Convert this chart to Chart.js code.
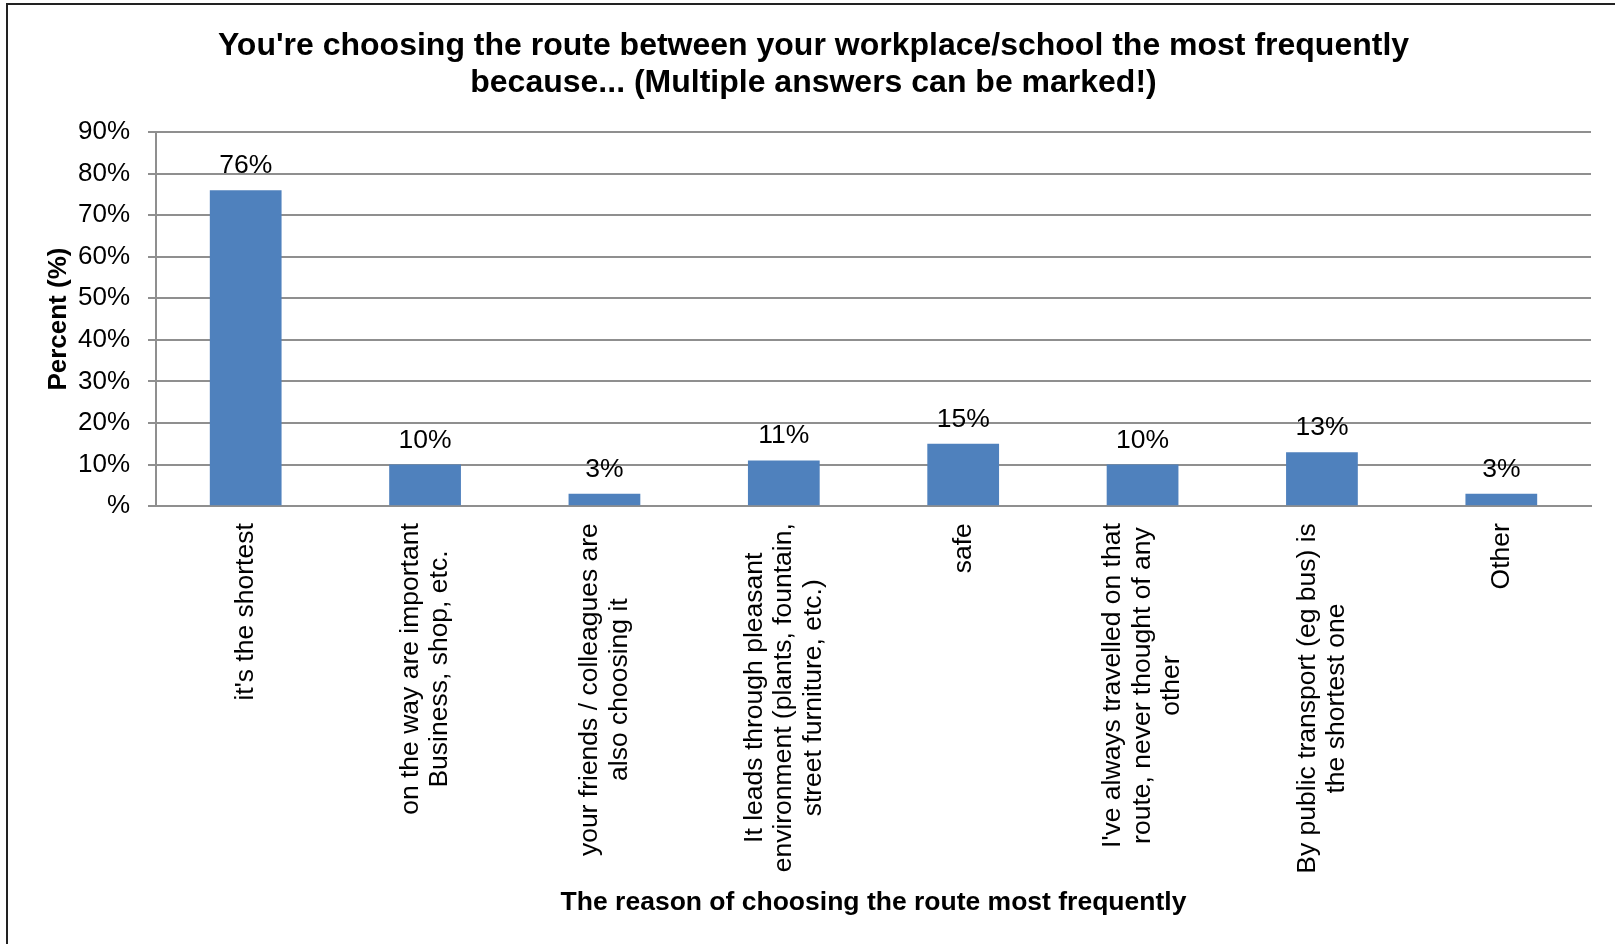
<!DOCTYPE html>
<html lang="en">
<head>
  <meta charset="UTF-8">
  <title>Route choice reasons</title>
  <script src="https://cdn.jsdelivr.net/npm/chart.js"></script>
  <style>
    body { margin: 0; background: #fff; }
    canvas { display: block; }
  </style>
</head>
<body>
  <canvas id="chart" width="1615" height="944"></canvas>

  <script>
    // category labels (each entry = lines of the rotated label)
    const categories = [
      ["it's the shortest"],
      ['on the way are important', 'Business, shop, etc.'],
      ['your friends / colleagues are', 'also choosing it'],
      ['It leads through pleasant', 'environment (plants, fountain,', 'street furniture, etc.)'],
      ['safe'],
      ["I've always travelled on that", 'route, never thought of any', 'other'],
      ['By public transport (eg bus) is', 'the shortest one'],
      ['Other']
    ];
    const percents = [76, 10, 3, 11, 15, 10, 13, 3];
    const yTickLabels = ['%', '10%', '20%', '30%', '40%', '50%', '60%', '70%', '80%', '90%'];

    const FONT = "'Liberation Sans', Arial, sans-serif";
    const gridColor = '#8f8f8f';

    // value labels above bars + rotated category labels + frame
    const extras = {
      id: 'extras',
      afterDraw(chart) {
        const ctx = chart.ctx;
        const x = chart.scales.x;
        const y = chart.scales.y;
        const meta = chart.getDatasetMeta(0);
        ctx.save();
        ctx.fillStyle = '#000';

        ctx.font = '26.5px ' + FONT;
        ctx.textAlign = 'center';
        ctx.textBaseline = 'alphabetic';
        meta.data.forEach((bar, i) => {
          ctx.fillText(percents[i] + '%', bar.x, bar.y - 17);
        });

        ctx.font = '26.5px ' + FONT;
        ctx.textBaseline = 'middle';
        const lh = 29.5;
        const axisY = y.getPixelForValue(0);
        categories.forEach((lines, i) => {
          const cx = x.getPixelForValue(i);
          const w = Math.max(...lines.map(l => ctx.measureText(l).width));
          ctx.save();
          ctx.translate(cx, axisY + 17 + w / 2);
          ctx.rotate(-Math.PI / 2);
          lines.forEach((l, j) => {
            ctx.fillText(l, 0, (j - (lines.length - 1) / 2) * lh);
          });
          ctx.restore();
        });

        // outer frame (only top and left edges are inside the picture)
        ctx.strokeStyle = '#222';
        ctx.lineWidth = 2;
        ctx.beginPath();
        ctx.moveTo(7, 950);
        ctx.lineTo(7, 4);
        ctx.lineTo(1620, 4);
        ctx.stroke();
        ctx.restore();
      }
    };

    new Chart(document.getElementById('chart').getContext('2d'), {
      type: 'bar',
      data: {
        labels: categories,
        datasets: [{
          data: percents,
          backgroundColor: '#4F81BD',
          borderWidth: 0,
          barPercentage: 0.4,
          categoryPercentage: 1.0
        }]
      },
      options: {
        responsive: false,
        animation: false,
        layout: { padding: { left: 36, right: 24, top: 0, bottom: 0 } },
        plugins: {
          legend: { display: false },
          tooltip: { enabled: false },
          title: {
            display: true,
            text: ["You're choosing the route between your workplace/school the most frequently",
                   'because... (Multiple answers can be marked!)'],
            color: '#000',
            font: { family: FONT, size: 32, weight: 'bold', lineHeight: '37px' },
            padding: { top: 28, bottom: 30 }
          }
        },
        scales: {
          x: {
            grid: { display: false, drawTicks: false },
            border: { display: true, color: gridColor, width: 2 },
            ticks: { display: false },
            title: {
              display: true,
              text: 'The reason of choosing the route most frequently',
              color: '#000',
              font: { family: FONT, size: 26.5, weight: 'bold', lineHeight: 1.2 },
              padding: { top: 381, bottom: 25 }
            }
          },
          y: {
            min: 0,
            max: 90,
            afterFit(scale) { scale.width = 120; },
            ticks: {
              stepSize: 10,
              color: '#000',
              padding: 18,
              font: { family: FONT, size: 26 },
              callback: (v, i) => yTickLabels[i]
            },
            grid: { color: gridColor, lineWidth: 2, tickLength: 8 },
            border: { display: true, color: gridColor, width: 2 },
            title: {
              display: true,
              text: 'Percent (%)',
              color: '#000',
              font: { family: FONT, size: 26, weight: 'bold', lineHeight: 1.2 },
              padding: { top: 7, bottom: 0 }
            }
          }
        }
      },
      plugins: [extras]
    });
  </script>
</body>
</html>
